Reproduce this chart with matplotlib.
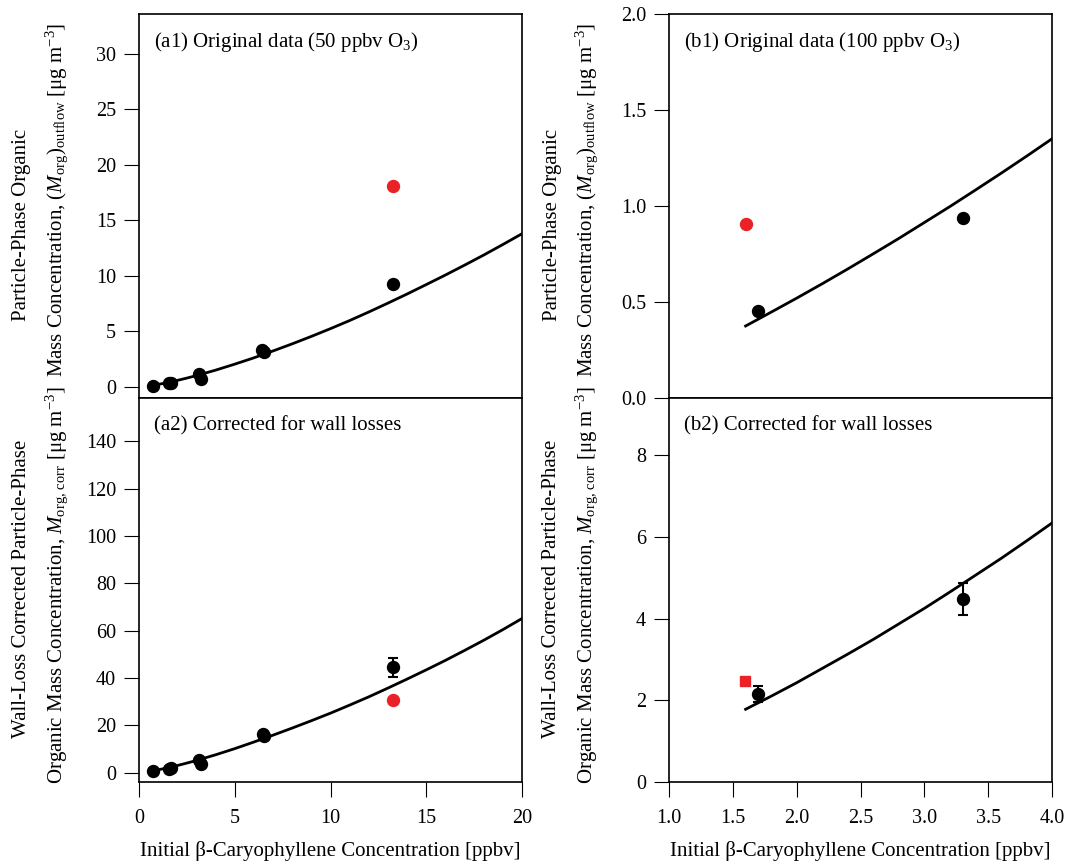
import numpy as np
import matplotlib
matplotlib.use("Agg")
import matplotlib.pyplot as plt

plt.rcParams['font.family'] = ['Liberation Serif', 'DejaVu Serif']
plt.rcParams['mathtext.fontset'] = 'custom'
plt.rcParams['mathtext.rm'] = 'Liberation Serif'
plt.rcParams['mathtext.it'] = 'Liberation Serif:italic'
plt.rcParams['mathtext.bf'] = 'Liberation Serif:bold'
plt.rcParams['font.size'] = 15

RED = '#ea2227'

# ---------------- data ----------------
# (a1) original data, 50 ppbv O3
a1_x = [0.71, 1.55, 1.65, 3.13, 3.22, 6.44, 6.53, 13.25]
a1_y = [0.10, 0.38, 0.33, 1.14, 0.75, 3.37, 3.16, 9.25]
a1_red_x = [13.25]
a1_red_y = [18.1]
a1_fit_x = [0.8, 1.2, 1.6, 2, 2.5, 3, 4, 5, 6, 7, 8, 9, 10, 11, 12, 13, 14,
            15, 16, 17, 18, 19, 20]
a1_fit_y = [0.17, 0.29, 0.43, 0.585, 0.795, 1.02, 1.51, 2.05, 2.62, 3.24,
            3.88, 4.55, 5.25, 5.98, 6.75, 7.55, 8.37, 9.22, 10.08, 10.97,
            11.88, 12.83, 13.8]

# (a2) wall-loss corrected, 50 ppbv O3
a2_x = [0.75, 1.55, 1.68, 3.15, 3.24, 6.47, 6.55, 13.28]
a2_y = [0.55, 1.5, 2.0, 5.3, 3.8, 16.3, 15.3, 44.5]
a2_err = [0, 0, 0, 0, 0, 0, 0, 4.1]
a2_red_x = [13.28]
a2_red_y = [30.7]
a2_fit_x = [0.8, 1.2, 1.6, 2, 2.5, 3, 4, 5, 6, 7, 8, 9, 10, 11, 12, 13, 14,
            15, 16, 17, 18, 19, 20]
a2_fit_y = [0.87, 1.49, 2.19, 2.96, 4.0, 5.1, 7.5, 10.1, 12.9, 15.8, 18.8,
            21.9, 25.1, 28.5, 32.0, 35.7, 39.5, 43.4, 47.4, 51.6, 55.9,
            60.4, 65.1]

# (b1) original data, 100 ppbv O3
b1_x = [1.70, 3.305]
b1_y = [0.451, 0.939]
b1_red_x = [1.603]
b1_red_y = [0.908]
b1_fit_x = [1.6, 1.8, 2.0, 2.2, 2.4, 2.6, 2.8, 3.0, 3.2, 3.4, 3.6, 3.8, 4.0]
b1_fit_y = [0.375, 0.447, 0.520, 0.595, 0.672, 0.751, 0.831, 0.914, 0.997,
            1.083, 1.170, 1.259, 1.350]

# (b2) wall-loss corrected, 100 ppbv O3
b2_x = [1.70, 3.30]
b2_y = [2.15, 4.48]
b2_err = [0.20, 0.39]
b2_red_x = [1.598]
b2_red_y = [2.47]
b2_fit_x = [1.6, 1.8, 2.0, 2.2, 2.4, 2.6, 2.8, 3.0, 3.2, 3.4, 3.6, 3.8, 4.0]
b2_fit_y = [1.78, 2.10, 2.43, 2.78, 3.13, 3.49, 3.87, 4.25, 4.65, 5.06,
            5.47, 5.90, 6.34]

a_xticks = [0, 5, 10, 15, 20]
b_xticks = [1.0, 1.5, 2.0, 2.5, 3.0, 3.5, 4.0]
a1_yticks = [0, 5, 10, 15, 20, 25, 30]
a2_yticks = [0, 20, 40, 60, 80, 100, 120, 140]
b1_yticks = [0.0, 0.5, 1.0, 1.5, 2.0]
b2_yticks = [0, 2, 4, 6, 8]

# ---------------- figure ----------------
W, H = 1071, 867
fig = plt.figure(figsize=(W / 100, H / 100), dpi=100)

def rect(left, top, right, bottom):
    return [left / W, 1 - bottom / H, (right - left) / W, (bottom - top) / H]

ax_a1 = fig.add_axes(rect(139, 14, 522, 398))
ax_a2 = fig.add_axes(rect(139, 398, 522, 782))
ax_b1 = fig.add_axes(rect(669, 14, 1052, 398))
ax_b2 = fig.add_axes(rect(669, 398, 1052, 782))

MS = 8.6
TICK_FS = 14.5
for ax in (ax_a1, ax_a2, ax_b1, ax_b2):
    for s in ax.spines.values():
        s.set_linewidth(1.2)
    ax.tick_params(direction='out', length=10.5, width=0.8, pad=6,
                   top=False, right=False, labelsize=TICK_FS)
    ax.tick_params(axis='x', pad=9)

# a1
ax_a1.plot(a1_fit_x, a1_fit_y, color='black', lw=2, zorder=2)
ax_a1.plot(a1_x, a1_y, 'o', color='black', ms=MS, zorder=3)
ax_a1.plot(a1_red_x, a1_red_y, 'o', color=RED, ms=MS, zorder=3)
ax_a1.set_xlim(0, 20)
ax_a1.set_ylim(-1, 33.6)
ax_a1.set_yticks(a1_yticks)
ax_a1.set_xticks(a_xticks)
ax_a1.tick_params(axis='x', bottom=False, labelbottom=False)

# a2
ax_a2.plot(a2_fit_x, a2_fit_y, color='black', lw=2, zorder=2)
m = np.array(a2_err) > 0
ax_a2.errorbar(np.array(a2_x)[m], np.array(a2_y)[m], yerr=np.array(a2_err)[m],
               fmt='none', ecolor='black', elinewidth=1.5, capsize=3.6,
               capthick=1.5, zorder=3)
ax_a2.plot(a2_x, a2_y, 'o', color='black', ms=MS, zorder=4)
ax_a2.plot(a2_red_x, a2_red_y, 'o', color=RED, ms=MS, zorder=4)
ax_a2.set_xlim(0, 20)
ax_a2.set_ylim(-4, 158.3)
ax_a2.set_yticks(a2_yticks)
ax_a2.set_xticks(a_xticks)

# b1
ax_b1.plot(b1_fit_x, b1_fit_y, color='black', lw=2, zorder=2)
ax_b1.plot(b1_x, b1_y, 'o', color='black', ms=MS, zorder=3)
ax_b1.plot(b1_red_x, b1_red_y, 'o', color=RED, ms=MS, zorder=3)
ax_b1.set_xlim(1.0, 4.0)
ax_b1.set_ylim(0, 2.0)
ax_b1.set_yticks(b1_yticks)
ax_b1.set_yticklabels([f"{v:.1f}" for v in b1_yticks])
ax_b1.set_xticks(b_xticks)
ax_b1.tick_params(axis='x', bottom=False, labelbottom=False)

# b2
ax_b2.plot(b2_fit_x, b2_fit_y, color='black', lw=2, zorder=2)
ax_b2.errorbar(b2_x, b2_y, yerr=b2_err, fmt='none', ecolor='black',
               elinewidth=1.5, capsize=3.6, capthick=1.5, zorder=3)
ax_b2.plot(b2_x, b2_y, 'o', color='black', ms=MS, zorder=4)
ax_b2.plot(b2_red_x, b2_red_y, 's', color=RED, ms=7.8, zorder=4)
ax_b2.set_xlim(1.0, 4.0)
ax_b2.set_ylim(0, 9.4)
ax_b2.set_yticks(b2_yticks)
ax_b2.set_xticks(b_xticks)
ax_b2.set_xticklabels([f"{v:.1f}" for v in b_xticks])

# panel labels
panel_texts = {
    ax_a1: "(a1) Original data (50 ppbv O$_3$)",
    ax_a2: "(a2) Corrected for wall losses",
    ax_b1: "(b1) Original data (100 ppbv O$_3$)",
    ax_b2: "(b2) Corrected for wall losses",
}
for ax, t in panel_texts.items():
    ax.text(15 / 383, 1 - 28 / 384, t, transform=ax.transAxes,
            ha='left', va='center', fontsize=15)

# x labels
xl = "Initial \u03b2-Caryophyllene Concentration [ppbv]"
for ax in (ax_a2, ax_b2):
    ax.set_xlabel(xl, fontsize=15, labelpad=9)

# y labels (two lines each)
top_l1 = "Particle-Phase Organic"
top_l2 = "Mass Concentration, $(M_{\\rm org})_{\\rm outflow}$ [\u03bcg m$^{-3}$]"
bot_l1 = "Wall-Loss Corrected Particle-Phase"
bot_l2 = "Organic Mass Concentration, $M_{\\rm org,\\,corr}$ [\u03bcg m$^{-3}$]"
for ax in (ax_a1, ax_b1):
    ax.text(-117 / 383, 0.45, top_l1, transform=ax.transAxes, rotation=90,
            ha='center', va='center', fontsize=15)
    ax.text(-82 / 383, 0.515, top_l2, transform=ax.transAxes, rotation=90,
            ha='center', va='center', fontsize=15)
for ax in (ax_a2, ax_b2):
    ax.text(-117 / 383, 0.503, bot_l1, transform=ax.transAxes, rotation=90,
            ha='center', va='center', fontsize=15)
    ax.text(-82 / 383, 0.513, bot_l2, transform=ax.transAxes, rotation=90,
            ha='center', va='center', fontsize=15)

fig.savefig("out.png", dpi=100)
